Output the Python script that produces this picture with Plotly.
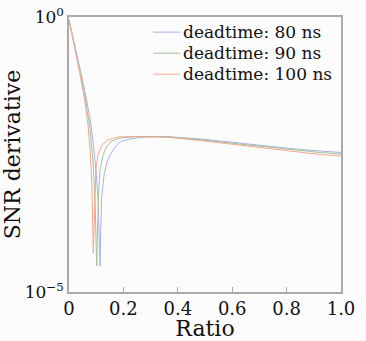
import numpy as np
import plotly.graph_objects as go

series_names = ["deadtime: 80 ns", "deadtime: 90 ns", "deadtime: 100 ns"]
series_colors = ["#aab2e6", "#a3c29a", "#f3a88c"]

ratio_80 = [0, 0.022, 0.040, 0.059, 0.077, 0.088, 0.099, 0.107, 0.111, 0.114, 0.1165, 0.120, 0.129,
            0.140, 0.151, 0.169, 0.1875, 0.213, 0.261, 0.316, 0.371, 0.482, 0.592, 0.702, 0.8125, 0.923, 1.0]
log_snr_80 = [-0.055, -0.509, -0.927, -1.364, -1.836, -2.236, -2.782, -3.327, -3.873, -4.527, -3.873, -3.273, -2.873,
              -2.636, -2.509, -2.364, -2.273, -2.227, -2.191, -2.173, -2.178, -2.218, -2.273, -2.336, -2.391, -2.436, -2.464]

ratio_90 = [0, 0.022, 0.040, 0.059, 0.077, 0.088, 0.0956, 0.099, 0.1018, 0.1044, 0.1085, 0.114, 0.125,
            0.140, 0.158, 0.1875, 0.243, 0.316, 0.371, 0.482, 0.592, 0.702, 0.8125, 0.923, 1.0]
log_snr_90 = [-0.055, -0.545, -0.982, -1.455, -2.018, -2.6, -3.327, -3.964, -4.527, -3.964, -3.236, -2.782, -2.509,
              -2.345, -2.255, -2.2, -2.176, -2.173, -2.182, -2.233, -2.291, -2.355, -2.409, -2.464, -2.491]

ratio_100 = [0, 0.022, 0.040, 0.059, 0.070, 0.079, 0.0846, 0.0893, 0.0938, 0.099, 0.1085, 0.121, 0.143,
             0.180, 0.243, 0.316, 0.371, 0.482, 0.592, 0.702, 0.8125, 0.923, 1.0]
log_snr_100 = [-0.055, -0.582, -1.036, -1.545, -1.964, -2.509, -3.145, -4.291, -3.327, -2.745, -2.473, -2.327, -2.236,
               -2.182, -2.173, -2.176, -2.191, -2.245, -2.309, -2.373, -2.436, -2.5, -2.527]

x_ticks = [0, 0.2, 0.4, 0.6, 0.8, 1.0]
x_tick_text = ["0", "0.2", "0.4", "0.6", "0.8", "1.0"]
y_ticks = [1, 1e-5]
y_tick_text = ["10<sup>0</sup>", "10<sup>\u22125</sup>"]

xs = [ratio_80, ratio_90, ratio_100]
ys = [log_snr_80, log_snr_90, log_snr_100]

font_family = "DejaVu Serif"
fs = 18

fig = go.Figure()
for name, color, x, ly in zip(series_names, series_colors, xs, ys):
    fig.add_trace(go.Scatter(x=x, y=10 ** np.array(ly), mode="lines", name=name,
                             line=dict(color=color, width=1), showlegend=False))

# compact legend (rows 21 px apart), built from the series lists
legend_top = 0.945
legend_step = 0.0765
for i, (name, color) in enumerate(zip(series_names, series_colors)):
    yy = legend_top - i * legend_step
    fig.add_shape(type="line", xref="paper", yref="paper", x0=0.309, x1=0.408, y0=yy, y1=yy,
                  line=dict(color=color, width=1))
    fig.add_annotation(xref="paper", yref="paper", x=0.415, y=yy, xanchor="left", yanchor="middle",
                       text=name, showarrow=False, borderpad=0,
                       font=dict(family=font_family, size=17, color="#111111"))

fig.update_layout(
    width=366, height=341,
    margin=dict(l=69, r=25, t=17, b=49),
    paper_bgcolor="#fcfcfc", plot_bgcolor="#fcfcfc",
    font=dict(family=font_family, size=fs, color="#111111"),
    showlegend=False,
)
fig.update_xaxes(range=[0, 1], tickvals=x_ticks, ticktext=x_tick_text, ticks="inside", ticklen=5,
                 tickcolor="#aaaaaa", showline=True, linecolor="#aaaaaa", linewidth=1.5, mirror=True,
                 showgrid=False, zeroline=False, title=dict(text="Ratio", standoff=0),
                 tickfont=dict(size=fs), automargin=False)
fig.update_yaxes(type="log", range=[-5, 0], tickvals=y_ticks, ticktext=y_tick_text, ticks="",
                 showline=True, linecolor="#aaaaaa", linewidth=1.5, mirror=True,
                 showgrid=False, zeroline=False, title=dict(text="SNR derivative", standoff=0),
                 tickfont=dict(size=17), automargin=False)

fig.write_html("out.html")
